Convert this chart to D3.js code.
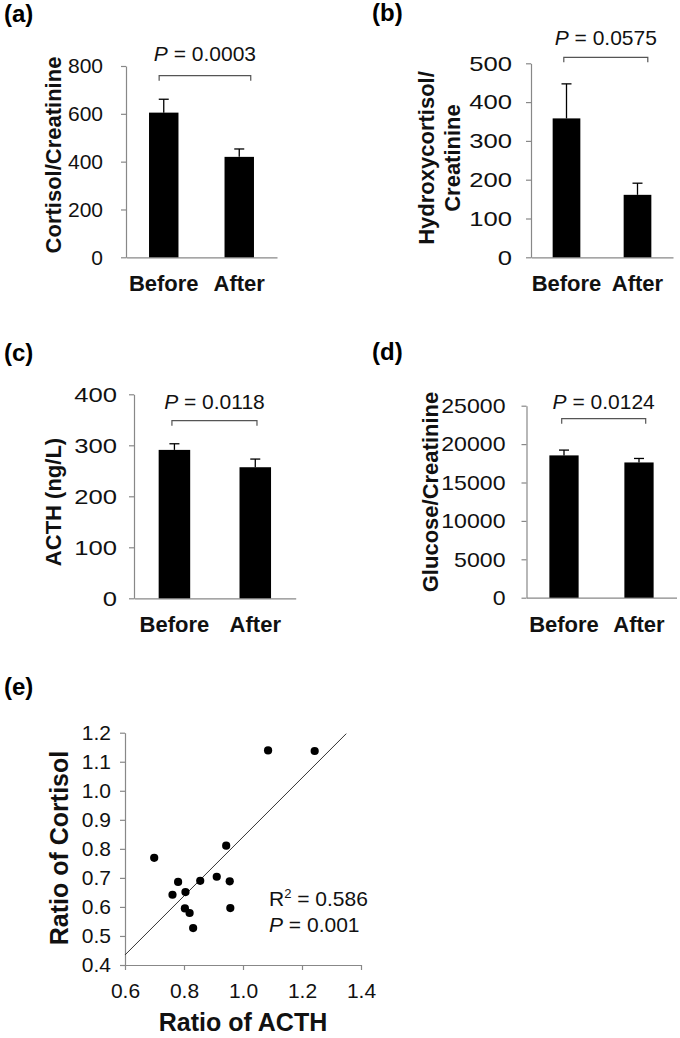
<!DOCTYPE html>
<html>
<head>
<meta charset="utf-8">
<script src="https://cdn.jsdelivr.net/npm/d3@7"></script>
<style>
  html, body { margin: 0; padding: 0; background: #fff; }
  svg { display: block; font-family: "Liberation Sans", Arial, sans-serif; }
</style>
</head>
<body>
<svg id="chart" width="680" height="1038"></svg>
<script>
// ---------------- DATA ----------------
const groups = ["Before", "After"];

const cortisolMeans  = [605, 420];
const cortisolErrors = [56, 33];
const cortisolTicks  = [0, 200, 400, 600, 800];

const hydroxyMeans  = [358, 161];
const hydroxyErrors = [89, 30];
const hydroxyTicks  = [0, 100, 200, 300, 400, 500];

const acthMeans  = [291, 257];
const acthErrors = [12, 16];
const acthTicks  = [0, 100, 200, 300, 400];

const glucoseMeans  = [18530, 17610];
const glucoseErrors = [690, 520];
const glucoseTicks  = [0, 5000, 10000, 15000, 20000, 25000];

const pValues = ["0.0003", "0.0575", "0.0118", "0.0124"];

const ratioACTH     = [1.085, 1.243, 0.699, 0.943, 0.780, 0.855, 0.911, 0.955, 0.761, 0.805, 0.803, 0.819, 0.831, 0.957];
const ratioCortisol = [1.139, 1.137, 0.769, 0.811, 0.686, 0.690, 0.704, 0.688, 0.642, 0.651, 0.595, 0.579, 0.527, 0.596];
const scatterXTicks = [0.6, 0.8, 1.0, 1.2, 1.4];
const scatterYTicks = [0.4, 0.5, 0.6, 0.7, 0.8, 0.9, 1.0, 1.1, 1.2];
const trendSlope = 1.016;
const trendIntercept = -0.175;
const trendRange = [0.6, 1.35];
const rSquared = "0.586";
const pScatter = "0.001";

// ---------------- DRAW ----------------
const svg = d3.select("#chart");
const AXIS = "#888888";
const FONT = "\"Liberation Sans\", Arial, sans-serif";

function panelLetter(txt, x, y) {
  svg.append("text").attr("x", x).attr("y", y)
    .attr("font-size", 24).attr("font-weight", "bold").attr("fill", "#000").text(txt);
}

function stretchText(sel, factor) {
  if (factor === 1) return;
  sel.each(function () {
    const w = this.getComputedTextLength();
    d3.select(this).attr("textLength", w * factor).attr("lengthAdjust", "spacingAndGlyphs");
  });
}

function barPanel(cfg) {
  const g = svg.append("g");
  const x = d3.scaleBand().domain(groups).range([cfg.x0, cfg.x1])
    .paddingInner(0.61).paddingOuter(0.305);
  const y = d3.scaleLinear().domain([0, cfg.ticks[cfg.ticks.length - 1]]).range([cfg.y0, cfg.yTop]);

  // y axis
  const ya = g.append("g").attr("transform", `translate(${cfg.x0},0)`)
    .call(d3.axisLeft(y).tickValues(cfg.ticks).tickFormat(d3.format("d"))
      .tickSize(5).tickSizeOuter(0).tickPadding(cfg.tickPad));
  ya.select(".domain").attr("stroke", AXIS).attr("stroke-width", 1.2);
  ya.selectAll(".tick line").attr("stroke", AXIS).attr("stroke-width", 1.2);
  const tt = ya.selectAll(".tick text").attr("font-size", 21).attr("font-family", FONT).attr("fill", "#111");
  stretchText(tt, cfg.stretch);

  // x axis
  const xa = g.append("g").attr("transform", `translate(0,${cfg.y0})`)
    .call(d3.axisBottom(x).tickSize(0).tickSizeOuter(0));
  xa.select(".domain").attr("stroke", AXIS).attr("stroke-width", 1.2);
  xa.selectAll(".tick text").attr("font-size", 22).attr("font-weight", "bold")
    .attr("font-family", FONT).attr("fill", "#111").attr("y", cfg.labelDy).attr("dy", null);

  // bars
  g.selectAll("rect.bar").data(groups).join("rect")
    .attr("x", d => x(d)).attr("width", x.bandwidth())
    .attr("y", (d, i) => y(cfg.means[i]))
    .attr("height", (d, i) => y(0) - y(cfg.means[i]))
    .attr("fill", "#000");

  // error bars (plus only)
  groups.forEach((d, i) => {
    const cx = x(d) + x.bandwidth() / 2;
    const top = y(cfg.means[i] + cfg.errors[i]);
    g.append("line").attr("x1", cx).attr("x2", cx)
      .attr("y1", y(cfg.means[i])).attr("y2", top).attr("stroke", "#000").attr("stroke-width", 1.3);
    g.append("line").attr("x1", cx - 5).attr("x2", cx + 5)
      .attr("y1", top).attr("y2", top).attr("stroke", "#000").attr("stroke-width", 1.3);
  });

  // significance bracket
  const bl = x(groups[0]) + x.bandwidth() / 2 + cfg.br[0];
  const brr = x(groups[1]) + x.bandwidth() / 2 + cfg.br[1];
  const by = cfg.brY;
  g.append("path")
    .attr("d", `M${bl},${by + 5}V${by}H${brr}V${by + 5}`)
    .attr("fill", "none").attr("stroke", "#555").attr("stroke-width", 1.2);
  const pt = g.append("text").attr("x", (bl + brr) / 2).attr("y", cfg.pY)
    .attr("text-anchor", "middle").attr("font-size", 21).attr("fill", "#111");
  pt.append("tspan").attr("font-style", "italic").text("P");
  pt.append("tspan").text(" = " + cfg.p);

  // y label
  cfg.yLabel.forEach((line, k) => {
    g.append("text")
      .attr("transform", `translate(${cfg.yLabelX[k]},${cfg.yLabelY}) rotate(-90)`)
      .attr("text-anchor", "middle").attr("font-size", 22).attr("font-weight", "bold")
      .attr("fill", "#111").text(line);
  });
}

panelLetter("(a)", 4, 22);
barPanel({ x0: 126, x1: 277, y0: 257.3, yTop: 66, ticks: cortisolTicks,
  means: cortisolMeans, errors: cortisolErrors, p: pValues[0],
  br: [-4.6, 11.5], brY: 75.7, pY: 61, tickPad: 18, labelDy: 34, stretch: 1,
  yLabel: ["Cortisol/Creatinine"], yLabelX: [61], yLabelY: 155 });

panelLetter("(b)", 372, 21);
barPanel({ x0: 531, x1: 673, y0: 257.3, yTop: 63.3, ticks: hydroxyTicks,
  means: hydroxyMeans, errors: hydroxyErrors, p: pValues[1],
  br: [-2.7, 10.3], brY: 57.3, pY: 45, tickPad: 14, labelDy: 34, stretch: 1.22,
  yLabel: ["Hydroxycortisol/", "Creatinine"], yLabelX: [434, 460], yLabelY: 158 });

panelLetter("(c)", 4, 361);
barPanel({ x0: 134, x1: 295.7, y0: 598.3, yTop: 394.3, ticks: acthTicks,
  means: acthMeans, errors: acthErrors, p: pValues[2],
  br: [-2.5, 1.7], brY: 420.7, pY: 409, tickPad: 12, labelDy: 34, stretch: 1.22,
  yLabel: ["ACTH (ng/L)"], yLabelX: [61], yLabelY: 502 });

panelLetter("(d)", 372, 360);
barPanel({ x0: 526.5, x1: 676.5, y0: 597.7, yTop: 405.7, ticks: glucoseTicks,
  means: glucoseMeans, errors: glucoseErrors, p: pValues[3],
  br: [-2.3, 6.7], brY: 418.7, pY: 409, tickPad: 16, labelDy: 34, stretch: 1.1,
  yLabel: ["Glucose/Creatinine"], yLabelX: [438], yLabelY: 492 });

// ---------------- SCATTER (e) ----------------
panelLetter("(e)", 4, 695);
(function () {
  const g = svg.append("g");
  const x = d3.scaleLinear().domain([0.6, 1.4]).range([125, 361]);
  const y = d3.scaleLinear().domain([0.4, 1.2]).range([965, 732.7]);

  const ya = g.append("g").attr("transform", "translate(125,0)")
    .call(d3.axisLeft(y).tickValues(scatterYTicks).tickFormat(d3.format(".1f"))
      .tickSize(5).tickSizeOuter(0).tickPadding(9));
  ya.select(".domain").attr("stroke", AXIS).attr("stroke-width", 1.2);
  ya.selectAll(".tick line").attr("stroke", AXIS).attr("stroke-width", 1.2);
  ya.selectAll(".tick text").attr("font-size", 21).attr("font-family", FONT).attr("fill", "#111");

  const xa = g.append("g").attr("transform", "translate(0,965)")
    .call(d3.axisBottom(x).tickValues(scatterXTicks).tickFormat(d3.format(".1f"))
      .tickSize(5).tickSizeOuter(0).tickPadding(0));
  xa.select(".domain").attr("stroke", AXIS).attr("stroke-width", 1.2);
  xa.selectAll(".tick line").attr("stroke", AXIS).attr("stroke-width", 1.2);
  xa.selectAll(".tick text").attr("font-size", 21).attr("font-family", FONT).attr("fill", "#111")
    .attr("y", 33).attr("dy", null);

  // trend line
  g.append("line")
    .attr("x1", x(trendRange[0])).attr("y1", y(trendSlope * trendRange[0] + trendIntercept))
    .attr("x2", x(trendRange[1])).attr("y2", y(trendSlope * trendRange[1] + trendIntercept))
    .attr("stroke", "#333").attr("stroke-width", 1);

  // points
  g.selectAll("circle").data(ratioACTH).join("circle")
    .attr("cx", d => x(d)).attr("cy", (d, i) => y(ratioCortisol[i]))
    .attr("r", 4.1).attr("fill", "#000");

  // stats text
  const t1 = g.append("text").attr("x", 269).attr("y", 906).attr("font-size", 21).attr("fill", "#111");
  t1.append("tspan").text("R");
  t1.append("tspan").attr("font-size", 13).attr("dy", -8).text("2");
  t1.append("tspan").attr("dy", 8).text(" = " + rSquared);
  const t2 = g.append("text").attr("x", 269).attr("y", 932).attr("font-size", 21).attr("fill", "#111");
  t2.append("tspan").attr("font-style", "italic").text("P");
  t2.append("tspan").text(" = " + pScatter);

  // axis titles
  g.append("text").attr("transform", "translate(68,848) rotate(-90)")
    .attr("text-anchor", "middle").attr("font-size", 25).attr("font-weight", "bold")
    .attr("fill", "#111").text("Ratio of Cortisol");
  g.append("text").attr("x", 243).attr("y", 1031)
    .attr("text-anchor", "middle").attr("font-size", 25).attr("font-weight", "bold")
    .attr("fill", "#111").text("Ratio of ACTH");
})();
</script>
</body>
</html>
